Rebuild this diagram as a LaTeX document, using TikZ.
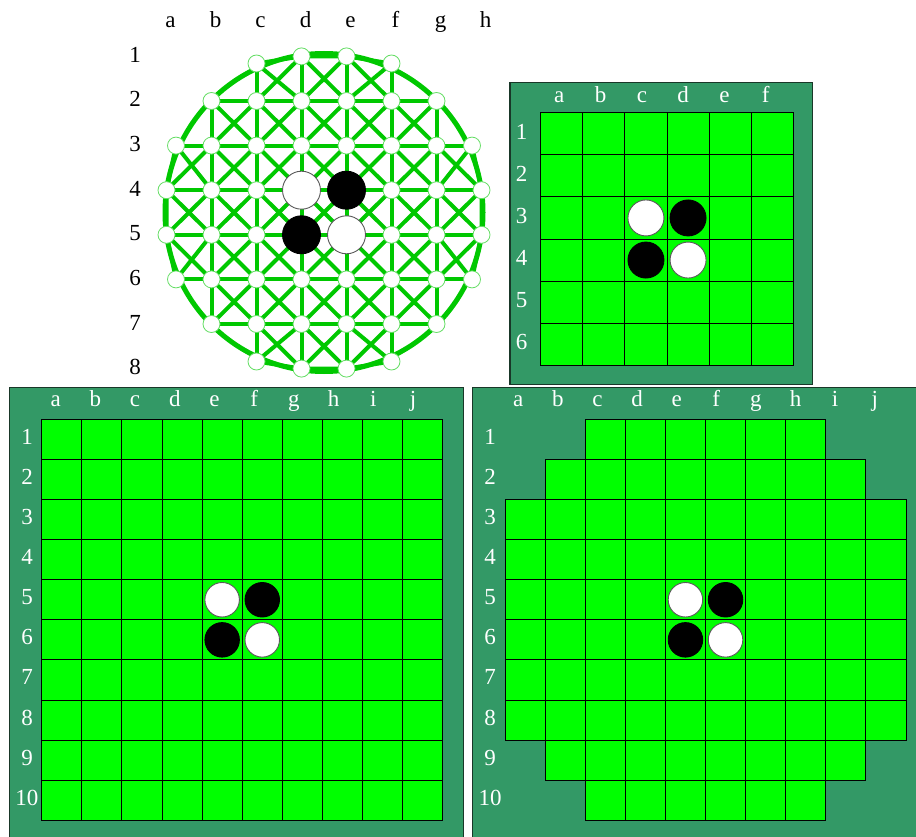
\documentclass[tikz,border=0pt]{standalone}
\usepackage{fontspec}
\setmainfont{Liberation Serif}
\usepackage{tikz}

\definecolor{felt}{RGB}{0,255,0}
\definecolor{baize}{RGB}{51,153,102}
\definecolor{wire}{RGB}{0,200,0}
\definecolor{rim}{RGB}{25,55,40}

\tikzset{
  panel/.style={fill=baize, draw=rim, line width=1.3pt},
  cell/.style={fill=felt, draw=black, line width=0.9pt},
  lbl/.style={font=\fontsize{23}{23}\selectfont, inner sep=0pt, anchor=base},
  wlbl/.style={lbl, text=white},
  wirel/.style={draw=wire, line width=4pt},
  ring/.style={draw=wire, line width=5pt},
  spot/.style={circle, fill=white, draw=wire!60, line width=0.8pt, minimum size=17pt, inner sep=0pt},
  wdisc/.style={circle, fill=white, draw=black!65, line width=0.9pt, inner sep=0pt},
  bdisc/.style={circle, fill=black, draw=black, line width=0.9pt, inner sep=0pt},
}

\begin{document}
\begin{tikzpicture}[x=1pt, y=-1pt]
        \useasboundingbox (0,0) rectangle (916,837);
        \clip (0,0) rectangle (916,837);

        % round board
        \draw[ring] (324,212.5) circle (159pt);
        \foreach \c [count=\i] in {a,...,h}
            \foreach \r in {1,...,8}
                \coordinate (\c\r) at ({324+(\i-4.5)*45},{212.5+(\r-4.5)*44.6});
        \coordinate (a3) at (176,145.6);
        \coordinate (a6) at (176,279.4);
        \coordinate (h3) at (472,145.6);
        \coordinate (h6) at (472,279.4);
        \coordinate (c1) at (256.5,63.5);
        \coordinate (f1) at (391.5,63.5);
        \coordinate (c8) at (256.5,361.5);
        \coordinate (f8) at (391.5,361.5);

        \foreach \r/\lo/\hi in {2/b/g,3/a/h,4/a/h,5/a/h,6/a/h,7/b/g}
            \draw[wirel] (\lo\r) -- (\hi\r);
        \foreach \c/\lo/\hi in {b/2/7,c/1/8,d/1/8,e/1/8,f/1/8,g/2/7}
            \draw[wirel] (\c\lo) -- (\c\hi);
        \draw[wirel] (c1) -- (d1) -- (e1) -- (f1);
        \draw[wirel] (c8) -- (d8) -- (e8) -- (f8);
        \draw[wirel] (a3) -- (a4) -- (a5) -- (a6);
        \draw[wirel] (h3) -- (h4) -- (h5) -- (h6);
        \foreach \r/\s/\pairs in {1/2/{c/d,d/e,e/f},2/3/{b/c,c/d,d/e,e/f,f/g},
                3/4/{a/b,b/c,c/d,d/e,e/f,f/g,g/h},4/5/{a/b,b/c,c/d,d/e,e/f,f/g,g/h},
                5/6/{a/b,b/c,c/d,d/e,e/f,f/g,g/h},6/7/{b/c,c/d,d/e,e/f,f/g},7/8/{c/d,d/e,e/f}}
            \foreach \c/\n in \pairs {
                \draw[wirel] (\c\r) -- (\n\s);
                \draw[wirel] (\n\r) -- (\c\s);
            }
        \foreach \r/\cols in {1/{c,d,e,f},2/{b,...,g},3/{a,...,h},4/{a,...,h},
                5/{a,...,h},6/{a,...,h},7/{b,...,g},8/{c,d,e,f}}
            \foreach \c in \cols
                \node[spot] (s\c\r) at (\c\r) {};
        \node[wdisc, minimum size=38pt] (wd4) at (d4) {};
        \node[bdisc, minimum size=38pt] (be4) at (e4) {};
        \node[bdisc, minimum size=38pt] (bd5) at (d5) {};
        \node[wdisc, minimum size=38pt] (we5) at (e5) {};
        \foreach \c [count=\i] in {a,...,h}
            \node[lbl] (rc\c) at ({328+(\i-4.5)*45},27.5) {\c};
        \foreach \r in {1,...,8}
            \node[lbl] (rr\r) at (135,{218.5+(\r-4.5)*44.6}) {\r};

        % 6x6 board
        \draw[panel] (510,82.3) rectangle (812.3,384.3);
        \foreach \i in {0,...,5}
            \foreach \j in {0,...,5}
                \draw[cell] ({540.7+\i*42.1},{112.7+\j*42.1}) rectangle ++(42.1,42.1);
        \foreach \c [count=\i] in {a,...,f}
            \node[wlbl] (sc\c) at ({559.3+(\i-1)*41.3},103) {\c};
        \foreach \r in {1,...,6}
            \node[wlbl] (sr\r) at (521.7,{112.7+(\r-0.5)*42.1+5.3}) {\r};
        \node[wdisc, minimum size=36pt] (sw1) at (645.95,217.95) {};
        \node[bdisc, minimum size=36pt] (sb1) at (688.05,217.95) {};
        \node[bdisc, minimum size=36pt] (sb2) at (645.95,260.05) {};
        \node[wdisc, minimum size=36pt] (sw2) at (688.05,260.05) {};

        % 10x10 board
        \draw[panel] (9.3,387.3) rectangle (463.3,850);
        \foreach \i in {0,...,9}
            \foreach \j in {0,...,9}
                \draw[cell] ({41.7+\i*40.1},{419.3+\j*40.1}) rectangle ++(40.1,40.1);
        \foreach \c [count=\i] in {a,...,j}
            \node[wlbl] (tc\c) at ({55.7+(\i-1)*39.7},406.7) {\c};
        \foreach \r in {1,...,10}
            \node[wlbl] (tr\r) at (27,{419.3+(\r-0.5)*40.1+5}) {\r};
        \node[wdisc, minimum size=34.5pt] (tw1) at (222.15,599.75) {};
        \node[bdisc, minimum size=34.5pt] (tb1) at (262.25,599.75) {};
        \node[bdisc, minimum size=34.5pt] (tb2) at (222.15,639.85) {};
        \node[wdisc, minimum size=34.5pt] (tw2) at (262.25,639.85) {};

        % 10x10 board, corners cut
        \draw[panel] (472.3,387.3) rectangle (925,850);
        \foreach \r/\lo/\hi in {1/2/7,2/1/8,3/0/9,4/0/9,5/0/9,6/0/9,7/0/9,8/0/9,9/1/8,10/2/7}
            \foreach \i in {\lo,...,\hi}
                \draw[cell] ({505+\i*40.1},{419.3+(\r-1)*40.1}) rectangle ++(40.1,40.1);
        \foreach \c [count=\i] in {a,...,j}
            \node[wlbl] (oc\c) at ({518.3+(\i-1)*39.6},406.7) {\c};
        \foreach \r in {1,...,10}
            \node[wlbl] (or\r) at (490,{419.3+(\r-0.5)*40.1+5}) {\r};
        \node[wdisc, minimum size=34.5pt] (ow1) at (685.45,599.75) {};
        \node[bdisc, minimum size=34.5pt] (ob1) at (725.55,599.75) {};
        \node[bdisc, minimum size=34.5pt] (ob2) at (685.45,639.85) {};
        \node[wdisc, minimum size=34.5pt] (ow2) at (725.55,639.85) {};
\end{tikzpicture}
\end{document}
